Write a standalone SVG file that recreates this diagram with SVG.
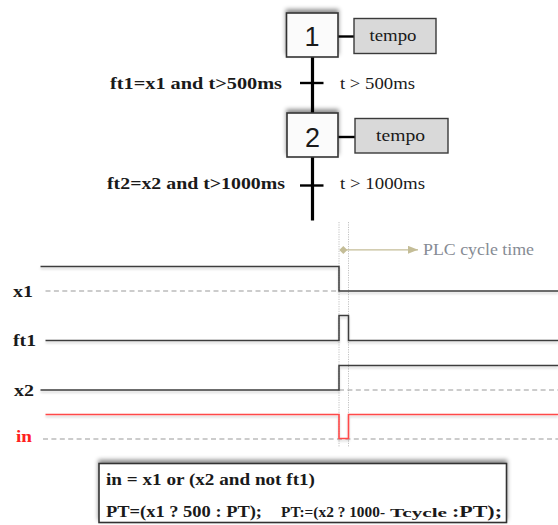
<svg xmlns="http://www.w3.org/2000/svg" width="558" height="525" viewBox="0 0 558 525">
  <style>
    .serif { font-family: "Liberation Serif", "DejaVu Serif", serif; }
    .lbl { font-family: "Liberation Serif", "DejaVu Serif", serif; font-weight: bold; font-size: 17px; fill: #1a1a1a; }
    .step { fill: #fbfbfb; stroke: #333; stroke-width: 1.6; }
    .act { fill: #d9d9d9; stroke: #3a3a3a; stroke-width: 1.4; }
    .num { font-family: "Liberation Sans", Arial, sans-serif; font-size: 27px; fill: #1a1a1a; text-anchor: middle; }
    .sig { fill: none; stroke: #3c3c3c; stroke-width: 1.5; }
    .red { fill: none; stroke: #ff4a4a; stroke-width: 1.6; }
    .base { fill: none; stroke: #9a9a9a; stroke-width: 1.2; stroke-dasharray: 5 3.4; }
    .cyc { fill: none; stroke: #c2c2c2; stroke-width: 1; stroke-dasharray: 1.2 1.2; }
  </style>
  <defs>
    <filter id="topShadow" x="-20%" y="-30%" width="140%" height="150%">
      <feDropShadow dx="0" dy="-3" stdDeviation="2.2" flood-color="#000" flood-opacity="0.45"/>
    </filter>
    <filter id="lineShadow" x="-5%" y="-50%" width="110%" height="200%">
      <feDropShadow dx="0" dy="2" stdDeviation="1" flood-color="#000" flood-opacity="0.18"/>
    </filter>
    <marker id="tanArrow" markerWidth="10" markerHeight="8" refX="10" refY="4" orient="auto" markerUnits="userSpaceOnUse">
      <path d="M0,0 L10,4 L0,8 Z" fill="#c4bd97"/>
    </marker>
  </defs>

  <!-- SFC links: main vertical flow, transition bars, action links -->
  <g id="connectors">
    <line x1="312.5" y1="57" x2="312.5" y2="220.5" stroke="#000" stroke-width="3.2"/>
    <line x1="300" y1="83" x2="323.5" y2="83" stroke="#000" stroke-width="2.4"/>
    <line x1="300" y1="185.5" x2="323.5" y2="185.5" stroke="#000" stroke-width="2.4"/>
    <line x1="338" y1="36.5" x2="354" y2="36.5" stroke="#000" stroke-width="2.4"/>
    <line x1="338" y1="137" x2="355" y2="137" stroke="#000" stroke-width="2.4"/>
  </g>

  <g id="step1">
    <rect class="step" x="286.5" y="13" width="51.5" height="44" filter="url(#topShadow)"/>
    <text class="num" x="312" y="45.5">1</text>
  </g>
  <g id="action1">
    <rect class="act" x="354" y="18.5" width="82" height="35"/>
    <text class="serif" x="369.5" y="41" font-size="17" fill="#1a1a1a" textLength="47" lengthAdjust="spacingAndGlyphs">tempo</text>
  </g>

  <g id="transition1">
    <text class="lbl" x="110" y="88.5" textLength="172" lengthAdjust="spacingAndGlyphs">ft1=x1 and t&gt;500ms</text>
    <text class="serif" x="340" y="88.5" font-size="17" fill="#1a1a1a" textLength="75" lengthAdjust="spacingAndGlyphs">t &gt; 500ms</text>
  </g>

  <g id="step2">
    <rect class="step" x="287" y="113" width="51" height="44" filter="url(#topShadow)"/>
    <text class="num" x="312.5" y="146.5">2</text>
  </g>
  <g id="action2">
    <rect class="act" x="355" y="118.5" width="93" height="34.5"/>
    <text class="serif" x="376" y="141" font-size="17" fill="#1a1a1a" textLength="49" lengthAdjust="spacingAndGlyphs">tempo</text>
  </g>

  <g id="transition2">
    <text class="lbl" x="107" y="189" textLength="178" lengthAdjust="spacingAndGlyphs">ft2=x2 and t&gt;1000ms</text>
    <text class="serif" x="340" y="189" font-size="17" fill="#1a1a1a" textLength="85" lengthAdjust="spacingAndGlyphs">t &gt; 1000ms</text>
  </g>

  <!-- timing chart -->
  <g id="cycle-marker">
    <line class="cyc" x1="339" y1="222" x2="339" y2="447"/>
    <line class="cyc" x1="348.5" y1="222" x2="348.5" y2="447"/>
    <path d="M343.3,246 L347.3,250 L343.3,254 L339.3,250 Z" fill="#c4bd97"/>
    <line x1="345" y1="249.8" x2="418" y2="249.8" stroke="#c4bd97" stroke-width="1.3" marker-end="url(#tanArrow)"/>
    <text class="serif" x="423" y="254.5" font-size="17" fill="#868b94" textLength="111" lengthAdjust="spacingAndGlyphs">PLC cycle time</text>
  </g>

  <g id="signal-x1">
    <text class="lbl" x="13" y="296.5" textLength="20" lengthAdjust="spacingAndGlyphs">x1</text>
    <line class="base" x1="45.5" y1="291" x2="339" y2="291"/>
    <path class="sig" filter="url(#lineShadow)" d="M40.5,266.5 H339 V291 H558"/>
  </g>

  <g id="signal-ft1">
    <text class="lbl" x="13" y="346" textLength="23" lengthAdjust="spacingAndGlyphs">ft1</text>
    <path class="sig" filter="url(#lineShadow)" d="M45.5,340.5 H339 V315.5 H348.5 V340.5 H558"/>
  </g>

  <g id="signal-x2">
    <text class="lbl" x="14" y="396" textLength="20" lengthAdjust="spacingAndGlyphs">x2</text>
    <line class="base" x1="339" y1="390" x2="558" y2="390"/>
    <path class="sig" filter="url(#lineShadow)" d="M40.5,390 H339 V365.5 H558"/>
  </g>

  <g id="signal-in">
    <text class="lbl" x="16" y="442" style="fill:#ff2020" textLength="16" lengthAdjust="spacingAndGlyphs">in</text>
    <line class="base" x1="43" y1="439" x2="558" y2="439"/>
    <path class="red" filter="url(#lineShadow)" d="M45.5,414.5 H339 V438.5 H348.5 V414.5 H558"/>
  </g>

  <!-- logic summary -->
  <g id="formula">
    <rect x="99" y="463.5" width="407.5" height="59" fill="#fff" stroke="#333" stroke-width="1.6" filter="url(#topShadow)"/>
    <text class="lbl" x="106" y="485" textLength="209" lengthAdjust="spacingAndGlyphs">in = x1 or (x2 and not ft1)</text>
    <text class="lbl" x="106" y="516.5" textLength="156" lengthAdjust="spacingAndGlyphs">PT=(x1 ? 500 : PT);</text>
    <text class="lbl" x="281" y="516.5" style="font-size:15.5px" textLength="104" lengthAdjust="spacingAndGlyphs">PT:=(x2 ? 1000-</text>
    <text class="lbl" x="390" y="516.5" style="font-size:12.5px" textLength="57" lengthAdjust="spacingAndGlyphs">Tcycle</text>
    <text class="lbl" x="452" y="516.5" textLength="50" lengthAdjust="spacingAndGlyphs">:PT);</text>
  </g>
</svg>
